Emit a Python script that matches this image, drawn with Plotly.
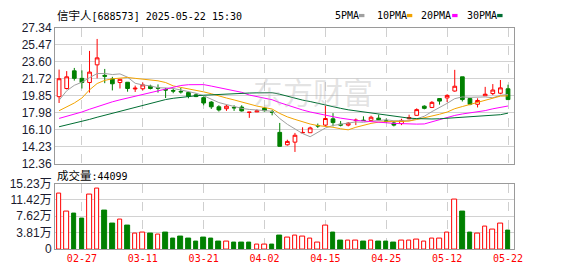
import plotly.graph_objects as go

# ---------------- data ----------------
dates = ["02-24", "02-25", "02-26", "02-27", "02-28",
         "03-03", "03-04", "03-05", "03-06", "03-07",
         "03-10", "03-11", "03-12", "03-13", "03-14",
         "03-17", "03-18", "03-19", "03-20", "03-21",
         "03-24", "03-25", "03-26", "03-27", "03-28",
         "03-31", "04-01", "04-02", "04-03", "04-07",
         "04-08", "04-09", "04-10", "04-11", "04-14",
         "04-15", "04-16", "04-17", "04-18", "04-21",
         "04-22", "04-23", "04-24", "04-25", "04-28",
         "04-29", "04-30", "05-06", "05-07", "05-08",
         "05-09", "05-12", "05-13", "05-14", "05-15",
         "05-16", "05-19", "05-20", "05-21", "05-22"]

opens = [19.75, 20.65, 22.60, 21.77, 21.31, 23.26, 22.10, 21.70, 21.31, 21.34,
         20.60, 20.62, 20.90, 20.72, 20.55, 20.42, 20.33, 20.20, 19.95, 19.64,
         19.15, 18.63, 18.42, 18.56, 18.60, 18.02, 18.07, 18.49, 18.06, 15.81,
         14.44, 14.73, 15.76, 15.77, 16.55, 16.61, 17.30, 16.71, 16.61, 17.11,
         17.15, 17.13, 17.38, 17.08, 16.85, 16.78, 17.31, 17.69, 18.70, 18.56,
         19.54, 19.61, 20.37, 21.94, 19.54, 18.91, 19.85, 20.09, 20.13, 20.62]
highs = [22.74, 22.57, 22.92, 22.65, 24.80, 26.12, 22.81, 21.94, 21.66, 21.34,
         20.97, 21.31, 21.07, 21.10, 20.72, 20.65, 20.72, 20.30, 20.10, 19.78,
         19.26, 18.80, 18.87, 18.80, 18.80, 18.05, 18.35, 18.60, 18.28, 16.85,
         15.00, 15.75, 16.37, 16.44, 16.78, 18.73, 17.93, 17.06, 16.95, 17.34,
         17.58, 17.65, 17.76, 17.34, 17.06, 17.31, 17.76, 18.46, 18.80, 19.26,
         19.60, 20.02, 22.71, 21.94, 19.54, 19.57, 20.83, 21.14, 21.59, 21.07]
lows = [19.05, 20.55, 21.52, 20.65, 20.20, 21.77, 21.24, 20.44, 20.65, 20.30,
        20.27, 20.44, 20.55, 20.20, 19.60, 20.13, 20.09, 19.57, 19.70, 18.80,
        18.39, 18.11, 18.18, 18.18, 18.11, 17.41, 18.05, 18.11, 17.69, 14.25,
        14.35, 13.65, 15.74, 15.77, 16.30, 16.44, 16.47, 16.47, 16.47, 16.61,
        17.10, 17.06, 17.20, 16.89, 16.47, 16.61, 17.25, 17.65, 18.35, 18.49,
        18.87, 19.15, 20.30, 19.22, 18.80, 18.56, 19.85, 19.92, 20.02, 19.43]
closes = [21.73, 21.94, 21.77, 21.31, 22.46, 24.03, 22.00, 21.17, 21.66, 20.65,
          20.68, 21.05, 20.65, 20.68, 20.48, 20.37, 20.28, 19.78, 19.76, 19.05,
          18.63, 18.28, 18.70, 18.52, 18.18, 18.04, 18.18, 18.20, 18.03, 14.27,
          14.81, 15.49, 15.80, 16.30, 16.52, 17.34, 16.89, 16.61, 16.82, 17.15,
          17.12, 17.48, 17.20, 17.05, 16.61, 17.13, 17.45, 18.32, 18.46, 19.12,
          19.26, 19.89, 20.90, 19.43, 18.91, 19.33, 20.02, 20.48, 20.72, 19.43]

ma5 = [19.35, 20.40, 21.00, 21.35, 21.84, 22.30, 22.31, 22.19, 22.26, 21.90,
       21.23, 21.04, 20.94, 20.74, 20.71, 20.65, 20.49, 20.32, 20.13, 19.85,
       19.50, 19.10, 18.88, 18.64, 18.46, 18.34, 18.32, 18.22, 18.13, 17.34,
       16.70, 16.16, 15.68, 15.33, 15.78, 16.29, 16.57, 16.73, 16.84, 16.96,
       16.92, 17.04, 17.15, 17.20, 17.09, 17.09, 17.09, 17.31, 17.59, 18.10,
       18.52, 19.01, 19.53, 19.72, 19.68, 19.69, 19.72, 19.63, 19.89, 20.00]
ma10 = [18.20, 18.60, 19.05, 19.60, 20.50, 21.20, 21.55, 21.72, 21.82, 21.87,
        21.77, 21.68, 21.57, 21.50, 21.31, 20.94, 20.77, 20.63, 20.44, 20.28,
        20.07, 19.80, 19.60, 19.39, 19.16, 18.92, 18.71, 18.55, 18.38, 17.90,
        17.52, 17.24, 16.95, 16.73, 16.56, 16.49, 16.37, 16.21, 16.09, 16.37,
        16.60, 16.80, 16.94, 17.02, 17.03, 17.01, 17.06, 17.23, 17.40, 17.59,
        17.81, 18.05, 18.42, 18.66, 18.89, 19.11, 19.36, 19.58, 19.81, 19.84]
ma20 = [17.35, 17.58, 17.82, 18.06, 18.36, 18.66, 18.95, 19.18, 19.40, 19.60,
        19.80, 19.98, 20.18, 20.40, 20.62, 20.82, 20.98, 21.07, 21.11, 21.08,
        20.92, 20.74, 20.58, 20.44, 20.23, 19.93, 19.74, 19.59, 19.41, 19.09,
        18.80, 18.52, 18.28, 18.06, 17.86, 17.71, 17.54, 17.38, 17.23, 17.14,
        17.06, 17.02, 16.95, 16.87, 16.80, 16.75, 16.71, 16.72, 16.74, 16.98,
        17.21, 17.43, 17.68, 17.84, 17.96, 18.06, 18.21, 18.41, 18.60, 18.72]
ma30 = [16.43, 16.62, 16.81, 17.00, 17.24, 17.48, 17.70, 17.93, 18.15, 18.38,
        18.60, 18.83, 19.05, 19.25, 19.43, 19.57, 19.68, 19.77, 19.85, 19.91,
        19.96, 20.01, 20.05, 20.09, 20.12, 20.15, 20.17, 20.19, 20.19, 20.02,
        19.79, 19.57, 19.37, 19.21, 19.01, 18.79, 18.61, 18.46, 18.30, 18.18,
        18.07, 17.95, 17.83, 17.71, 17.58, 17.47, 17.38, 17.33, 17.29, 17.29,
        17.31, 17.36, 17.44, 17.47, 17.49, 17.54, 17.60, 17.67, 17.76, 17.93]

volumes = [130000, 88300, 82000, 70600, 127000, 141000, 90500, 60000, 67700, 53700,
           35300, 37500, 35300, 33100, 38200, 24300, 28700, 24300, 17700, 26500,
           24300, 17700, 17700, 14000, 14000, 15500, 11000, 11000, 11000, 30900,
           25700, 30900, 28000, 24300, 15500, 55200, 37500, 19900, 19900, 19900,
           17700, 19900, 17700, 17700, 15500, 19900, 19900, 22100, 17700, 24300,
           24300, 37500, 114800, 88300, 37500, 35300, 53000, 46400, 59600, 44099]

label_dates = ["02-27", "03-11", "03-21", "04-02", "04-15", "04-25", "05-12", "05-22"]
price_ticks = [12.36, 14.23, 16.10, 17.98, 19.85, 21.72, 23.60, 25.47, 27.34]
price_tick_text = ["12.36", "14.23", "16.10", "17.98", "19.85", "21.72", "23.60", "25.47", "27.34"]
vol_ticks = [0, 38100, 76200, 114200, 152300]
vol_tick_text = ["0", "3.81万", "7.62万", "11.42万", "15.23万"]

title_name = "信宇人"
title_rest = "[688573] 2025-05-22 15:30"
ma_names = ["5PMA", "10PMA", "20PMA", "30PMA"]
ma_colors = ["#a0a0a0", "#f2a300", "#ff00ff", "#006e33"]

# ---------------- layout helpers ----------------
W, H = 578, 276
def px(x):
    return x / W
def py(y):
    return 1 - y / H

RED = "#ff0000"
GREEN = "#008000"
MONO = "DejaVu Sans Mono, Noto Sans CJK SC"
SANS = "Liberation Sans, Arial, Noto Sans CJK SC"

fig = go.Figure()

fig.add_trace(go.Candlestick(
    x=dates, open=opens, high=highs, low=lows, close=closes,
    increasing=dict(line=dict(color=RED, width=1), fillcolor="#ffffff"),
    decreasing=dict(line=dict(color=GREEN, width=1), fillcolor=GREEN),
    xaxis="x", yaxis="y", showlegend=False, hoverinfo="x+y"))

for name, vals, col in zip(ma_names, [ma5, ma10, ma20, ma30], ma_colors):
    fig.add_trace(go.Scatter(x=dates, y=vals, mode="lines", name=name,
                             line=dict(color=col, width=1),
                             xaxis="x", yaxis="y", showlegend=False))

vol_up = [i == 0 or closes[i] >= closes[i - 1] for i in range(len(closes))]
fig.add_trace(go.Bar(
    x=dates, y=volumes, width=0.6,
    marker=dict(color=["#ffffff" if u else GREEN for u in vol_up],
                line=dict(color=[RED if u else GREEN for u in vol_up], width=1)),
    xaxis="x2", yaxis="y2", showlegend=False))

xdom = [px(56), px(522)]
xrange = [-0.52, 59.77]
axis_common = dict(showline=True, mirror=True, linecolor="#9a9a9a", linewidth=1,
                   zeroline=False, ticks="", fixedrange=True)

fig.update_layout(
    width=W, height=H, autosize=False,
    margin=dict(l=0, r=0, t=0, b=0),
    paper_bgcolor="#ffffff", plot_bgcolor="#ffffff",
    showlegend=False, bargap=0,
    xaxis=dict(domain=xdom, anchor="y", type="category", range=xrange,
               tickvals=label_dates, showticklabels=False,
               showgrid=True, gridcolor="#cfcfcf", griddash="dash", gridwidth=1,
               rangeslider=dict(visible=False), **axis_common),
    yaxis=dict(domain=[py(165), py(22)], anchor="x", range=[12.36, 27.34],
               tickvals=price_ticks, ticktext=price_tick_text,
               tickfont=dict(family=SANS, size=12, color="#1a1a2e"),
               showgrid=True, gridcolor="#d2d2d2", gridwidth=1, **axis_common),
    xaxis2=dict(domain=xdom, anchor="y2", type="category", range=xrange, matches="x",
                tickvals=label_dates, ticktext=label_dates,
                tickfont=dict(family=MONO, size=10, color=RED),
                showgrid=True, gridcolor="#cfcfcf", griddash="dash", gridwidth=1,
                **axis_common),
    yaxis2=dict(domain=[py(255), py(186)], anchor="x2", range=[0, 152300],
                tickvals=vol_ticks, ticktext=vol_tick_text,
                tickfont=dict(family=SANS, size=12, color="#1a1a2e"),
                showgrid=True, gridcolor="#d2d2d2", gridwidth=1, **axis_common),
)

annotations = []
shapes = []

# watermark
annotations.append(dict(x=px(318), y=py(89), xref="paper", yref="paper",
                        text="东方财富", showarrow=False,
                        font=dict(family="Noto Sans CJK SC", size=30,
                                  color="rgba(175,175,175,0.35)"),
                        xanchor="center", yanchor="middle"))

# title
annotations.append(dict(x=px(56), y=py(9), xref="paper", yref="paper",
                        text=f"<span style='font-size:11.5px'>{title_name}</span>{title_rest}",
                        showarrow=False, xanchor="left", yanchor="middle",
                        font=dict(family=MONO, size=10, color="#000000")))

# legend labels with colored keys after each
legend_x = [338, 381, 426, 472]
key_x = [364.7, 413.3, 459.3, 505]
for name, col, lx, kx in zip(ma_names, ma_colors, legend_x, key_x):
    annotations.append(dict(x=px(lx), y=py(9), xref="paper", yref="paper",
                            text=name, showarrow=False, xanchor="left", yanchor="middle",
                            font=dict(family=MONO, size=10, color="#000000")))
    shapes.append(dict(type="rect", xref="paper", yref="paper",
                       x0=px(kx), x1=px(kx + 5.5), y0=py(10.7), y1=py(7.3),
                       fillcolor=col, line=dict(width=0)))

# volume header
annotations.append(dict(x=px(56), y=py(178), xref="paper", yref="paper",
                        text=f"<span style='font-size:11.5px'>成交量</span>:{volumes[-1]}",
                        showarrow=False, xanchor="left", yanchor="middle",
                        font=dict(family=MONO, size=10, color="#000000")))

fig.update_layout(annotations=annotations, shapes=shapes)

fig.write_html("out.html")
